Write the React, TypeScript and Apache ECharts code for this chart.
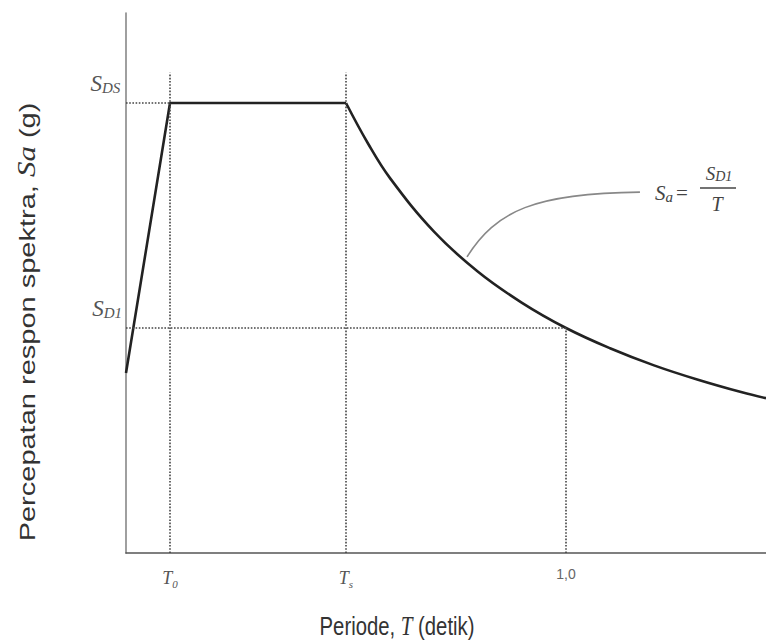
import React, { useEffect, useRef } from "react";
import * as echarts from "echarts";

// Spectrum parameters
const T0 = 0.1;
const TS = 0.5;
const T1 = 1.0;
const SDS = 1.0;
const SD1 = 0.5;
const GUIDE_TOP = 1.067;

// Ramp + plateau
const rampT = [0, 0.1, 0.5];
const rampSa = [0.4, 1.0, 1.0];

// Descending branch Sa = SD1 / T
const decayT = [0.5, 0.55, 0.6, 0.7, 0.8, 0.9, 1.0, 1.1, 1.2, 1.3, 1.4, 1.4545];
const decaySa = [1.0, 0.91, 0.833, 0.714, 0.625, 0.556, 0.5, 0.455, 0.417, 0.385, 0.357, 0.344];

// Leader curve to the formula (start, control 1, control 2, end) in data units
const leaderT = [0.775, 0.84, 0.93, 1.168];
const leaderSa = [0.658, 0.76, 0.8, 0.802];

const xTickValues = [T0, TS, T1];
const yTickValues = [SD1, SDS];

const SERIF = "Liberation Serif";
const SANS = "Liberation Sans";
const SQUISH = 0.78;

export default function App() {
  const ref = useRef<HTMLDivElement>(null);
  useEffect(() => {
    document.body.style.margin = "0";
    const chart = echarts.init(ref.current!, undefined, { renderer: "svg" });
    const zip = (a: number[], b: number[]) => a.map((v, i) => [v, b[i]]);
    const dotted = { type: "dotted" as const, color: "#444", width: 1.6 };
    chart.setOption({
      animation: false,
      backgroundColor: "#ffffff",
      grid: { left: 126, right: 0, top: 13, bottom: 90 },
      xAxis: {
        type: "value",
        min: 0,
        max: 1.4545,
        splitLine: { show: false },
        axisTick: { show: false },
        axisLine: { show: true, lineStyle: { color: "#555", width: 1.6 } },
        axisLabel: {
          customValues: xTickValues,
          margin: 14,
          color: "#555",
          formatter: (v: number) =>
            v === T0 ? "{t|T}{sub|0}" : v === TS ? "{t|T}{sub|s}" : "{n|1,0}",
          rich: {
            t: { fontFamily: SERIF, fontStyle: "italic", fontSize: 18, color: "#555" },
            sub: { fontFamily: SERIF, fontStyle: "italic", fontSize: 11, color: "#555", padding: [11, 0, 0, 0] },
            n: { fontFamily: SANS, fontSize: 14, color: "#666" },
          },
        },
      },
      yAxis: {
        type: "value",
        min: 0,
        max: 1.2,
        splitLine: { show: false },
        axisTick: { show: false },
        axisLine: { show: true, lineStyle: { color: "#888", width: 1.6 } },
        axisLabel: {
          customValues: yTickValues,
          margin: 4,
          verticalAlign: "bottom",
          formatter: (v: number) => (v === SDS ? "{s|S}{sub|DS}{pad| }" : "{s|S}{sub|D1}"),
          rich: {
            s: { fontFamily: SERIF, fontStyle: "italic", fontSize: 23, color: "#555", padding: [0, 0, 8, 0] },
            sub: { fontFamily: SERIF, fontStyle: "italic", fontSize: 15, color: "#555" },
            pad: { fontSize: 6 },
          },
        },
      },
      series: [
        {
          type: "line",
          data: zip(rampT, rampSa),
          symbol: "none",
          lineStyle: { color: "#222", width: 2.6 },
          silent: true,
          markLine: {
            silent: true,
            symbol: "none",
            label: { show: false },
            lineStyle: dotted,
            data: [
              [{ coord: [T0, 0] }, { coord: [T0, GUIDE_TOP] }],
              [{ coord: [TS, 0] }, { coord: [TS, GUIDE_TOP] }],
              [{ coord: [T1, 0] }, { coord: [T1, SD1] }],
              [{ coord: [0, SDS] }, { coord: [T0, SDS] }],
              [{ coord: [0, SD1] }, { coord: [T1, SD1] }],
            ],
          },
        },
        {
          type: "line",
          data: zip(decayT, decaySa),
          symbol: "none",
          smooth: 0.4,
          lineStyle: { color: "#222", width: 2.6 },
          silent: true,
        },
      ],
    });

    const px = (i: number) =>
      chart.convertToPixel({ gridIndex: 0 }, [leaderT[i], leaderSa[i]]) as number[];
    const p0 = px(0), p1 = px(1), p2 = px(2), p3 = px(3);

    chart.setOption({
      graphic: [
        {
          type: "bezierCurve",
          shape: {
            x1: p0[0], y1: p0[1],
            cpx1: p1[0], cpy1: p1[1],
            cpx2: p2[0], cpy2: p2[1],
            x2: p3[0], y2: p3[1],
          },
          style: { stroke: "#888", lineWidth: 1.6, fill: "none" },
          silent: true,
        },
        {
          type: "text",
          x: 27,
          y: 322,
          rotation: Math.PI / 2,
          scaleY: SQUISH,
          style: {
            text: "Percepatan respon spektra, {i|Sa} (g)",
            fill: "#333",
            font: `29px ${SANS}`,
            align: "center",
            verticalAlign: "middle",
            rich: { i: { fontFamily: SERIF, fontStyle: "italic", fontSize: 31, fill: "#333" } },
          },
        },
        {
          type: "text",
          x: 397,
          y: 626,
          scaleX: SQUISH,
          style: {
            text: "Periode, {i|T} (detik)",
            fill: "#333",
            font: `26px ${SANS}`,
            align: "center",
            verticalAlign: "middle",
            rich: { i: { fontFamily: SERIF, fontStyle: "italic", fontSize: 27, fill: "#333" } },
          },
        },
        {
          type: "text",
          x: 655,
          y: 193,
          style: {
            text: "{s|S}{sub|a}{eq|=}",
            fill: "#444",
            verticalAlign: "middle",
            rich: {
              s: { fontFamily: SERIF, fontStyle: "italic", fontSize: 21, fill: "#444" },
              sub: { fontFamily: SERIF, fontStyle: "italic", fontSize: 15, fill: "#444", padding: [7, 3, 0, 0] },
              eq: { fontFamily: SERIF, fontSize: 21, fill: "#444" },
            },
          },
        },
        {
          type: "text",
          x: 719,
          y: 173,
          style: {
            text: "{s|S}{sub|D1}",
            fill: "#444",
            align: "center",
            verticalAlign: "middle",
            rich: {
              s: { fontFamily: SERIF, fontStyle: "italic", fontSize: 19, fill: "#444" },
              sub: { fontFamily: SERIF, fontStyle: "italic", fontSize: 14, fill: "#444", padding: [7, 0, 0, 0] },
            },
          },
        },
        {
          type: "line",
          shape: { x1: 700, y1: 188, x2: 736, y2: 188 },
          style: { stroke: "#444", lineWidth: 1.3 },
        },
        {
          type: "text",
          x: 717,
          y: 204,
          style: {
            text: "T",
            fill: "#444",
            align: "center",
            verticalAlign: "middle",
            font: `italic 20px ${SERIF}`,
          },
        },
      ],
    });
    return () => chart.dispose();
  }, []);
  return <div ref={ref} style={{ width: 766, height: 643, position: "fixed", left: 0, top: 0 }} />;
}
